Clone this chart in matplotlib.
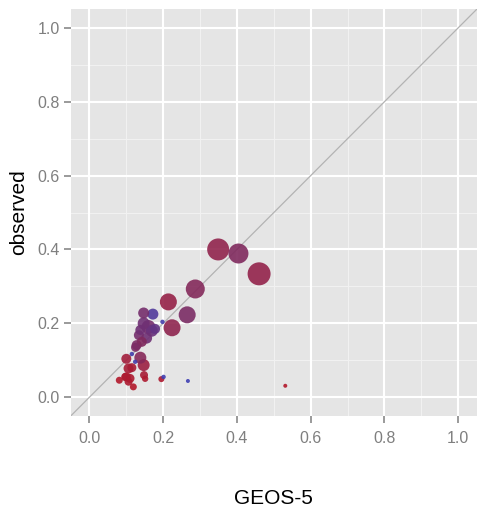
import numpy as np
import matplotlib
matplotlib.use("Agg")
import matplotlib.pyplot as plt
from matplotlib.colors import LinearSegmentedColormap

# data: model (GEOS-5) vs observed, with a size variable and a colour variable
geos5 = [0.349, 0.404, 0.460, 0.287, 0.214, 0.265, 0.224,
         0.531, 0.267, 0.201, 0.195,
         0.147, 0.172, 0.198, 0.147, 0.160, 0.169, 0.138, 0.134, 0.178,
         0.155, 0.128, 0.142, 0.125, 0.138, 0.147, 0.100, 0.115, 0.124,
         0.106, 0.115, 0.100, 0.110, 0.081, 0.097, 0.106, 0.119, 0.148, 0.151]
observed = [0.400, 0.389, 0.334, 0.293, 0.258, 0.223, 0.188,
            0.031, 0.044, 0.055, 0.049,
            0.228, 0.225, 0.204, 0.200, 0.190, 0.180, 0.182, 0.168, 0.185,
            0.160, 0.141, 0.150, 0.135, 0.107, 0.087, 0.104, 0.117, 0.096,
            0.078, 0.080, 0.055, 0.051, 0.046, 0.055, 0.042, 0.028, 0.060, 0.050]
weight = [11.0, 10.0, 11.5, 9.5, 8.5, 8.5, 8.5,
          2.0, 2.0, 2.2, 3.0,
          5.5, 5.5, 2.2, 6.0, 7.0, 6.0, 5.0, 5.0, 5.0,
          5.5, 5.0, 5.0, 4.5, 6.0, 6.0, 5.0, 2.2, 2.2,
          5.0, 4.5, 4.5, 4.5, 3.5, 4.0, 4.0, 3.5, 4.0, 3.2]
fraction = [0.30, 0.45, 0.28, 0.42, 0.25, 0.50, 0.32,
            0.0, 1.0, 1.0, 0.05,
            0.55, 0.85, 0.95, 0.60, 0.55, 0.65, 0.60, 0.55, 0.70,
            0.60, 0.50, 0.45, 0.50, 0.40, 0.20, 0.15, 0.95, 0.95,
            0.10, 0.10, 0.05, 0.05, 0.0, 0.05, 0.05, 0.0, 0.10, 0.05]
x_ticks = [0.0, 0.2, 0.4, 0.6, 0.8, 1.0]
y_ticks = [0.0, 0.2, 0.4, 0.6, 0.8, 1.0]

plt.rcParams['font.family'] = ['Liberation Sans', 'DejaVu Sans']

W, H, DPI = 483, 514, 100
fig = plt.figure(figsize=(W / DPI, H / DPI), dpi=DPI)
ax = fig.add_axes([71 / W, 1 - 415.7 / H, (476.7 - 71) / W, (415.7 - 9.3) / H])
ax.set_facecolor('#E5E5E5')
for s in ax.spines.values():
    s.set_visible(False)

ax.set_xlim(-0.05, 1.05)
ax.set_ylim(-0.05, 1.05)

# grid
for v in np.arange(0.1, 1.0, 0.2):
    ax.axvline(v, color='#F2F2F2', lw=0.7, zorder=0)
    ax.axhline(v, color='#F2F2F2', lw=0.7, zorder=0)
for v in x_ticks:
    ax.axvline(v, color='white', lw=1.5, zorder=0)
for v in y_ticks:
    ax.axhline(v, color='white', lw=1.5, zorder=0)

ax.plot([-0.05, 1.05], [-0.05, 1.05], color='#B3B3B3', lw=0.9, zorder=1)

cmap = LinearSegmentedColormap.from_list('rb', ['#B2182B', '#7B2C64', '#3F40B3'])
px_per_pt = DPI / 72.0
sizes = [(2 * w / px_per_pt) ** 2 for w in weight]
order = np.argsort(sizes)[::-1]
ax.scatter(np.array(geos5)[order], np.array(observed)[order], s=np.array(sizes)[order],
           c=cmap(np.array(fraction)[order]), alpha=0.9, linewidths=0, zorder=2)

ax.set_xticks(x_ticks)
ax.set_yticks(y_ticks)
ax.set_xticklabels([f'{v:.1f}' for v in x_ticks])
ax.set_yticklabels([f'{v:.1f}' for v in y_ticks])
ax.tick_params(axis='both', colors='#7F7F7F', labelcolor='#7F7F7F', labelsize=11.5,
               length=5, width=1.1, direction='out')
ax.tick_params(axis='x', pad=6)
ax.tick_params(axis='y', pad=3)

ax.set_xlabel('GEOS-5', fontsize=15, color='black', labelpad=31)
ax.set_ylabel('observed', fontsize=15, color='black', labelpad=7)

fig.savefig('out.png', dpi=DPI)
